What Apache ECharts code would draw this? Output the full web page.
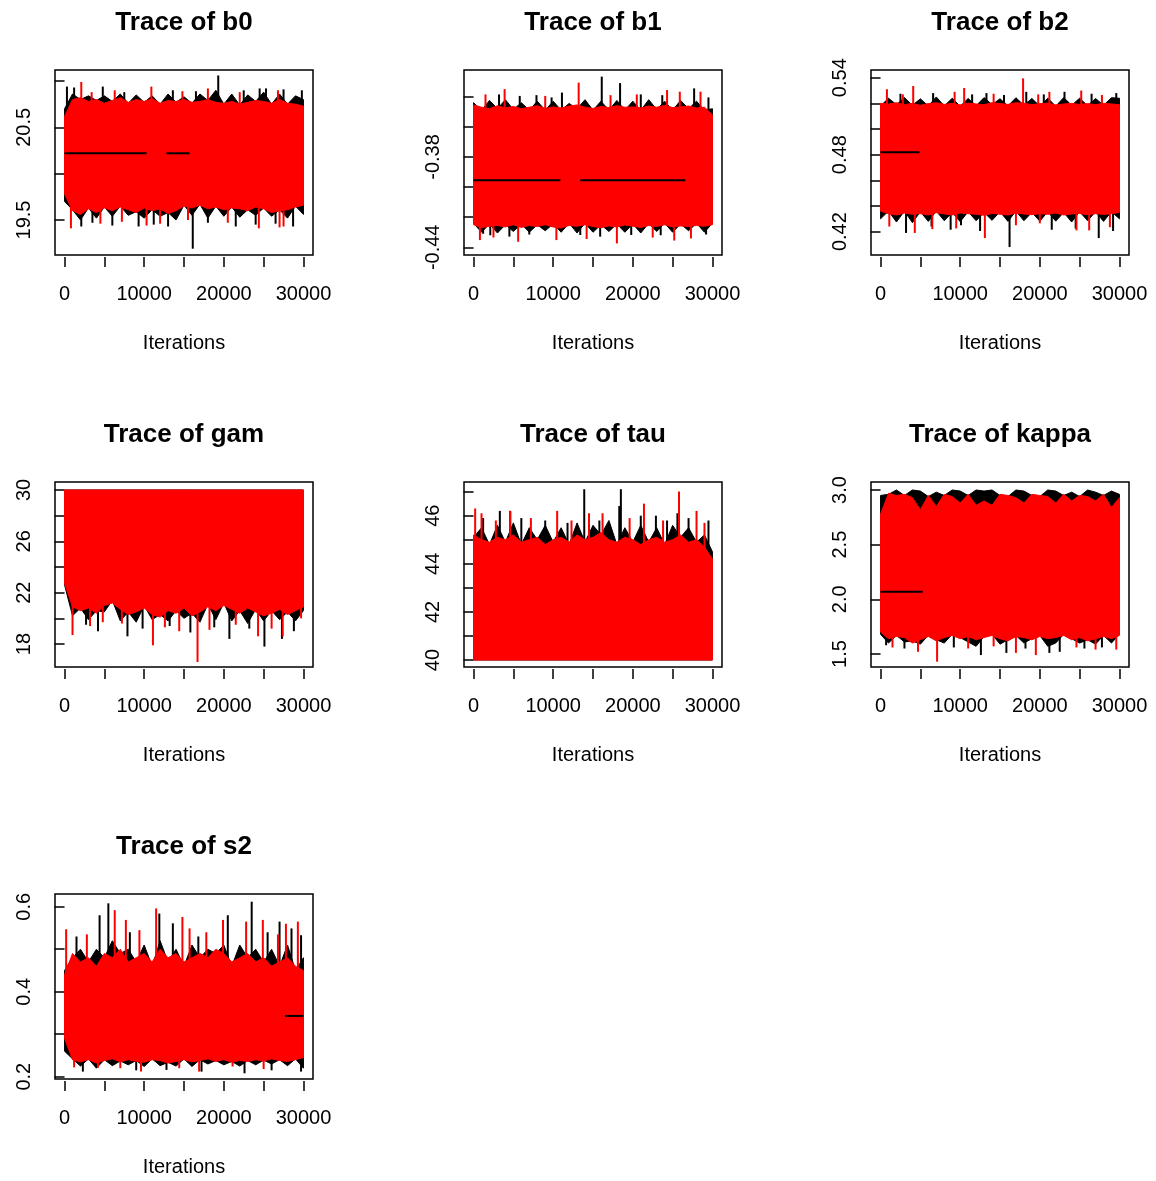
<!DOCTYPE html>
<html><head><meta charset="utf-8">
<script src="https://cdn.jsdelivr.net/npm/echarts@6/dist/echarts.min.js"></script>
<style>html,body{margin:0;padding:0;background:#fff}#c{width:1156px;height:1181px}</style>
</head><body><div id="c"></div>
<script>
// ---------- shared x data ----------
const iterations = [0,1000,2000,3000,4000,5000,6000,7000,8000,9000,10000,11000,12000,13000,14000,15000,16000,17000,18000,19000,20000,21000,22000,23000,24000,25000,26000,27000,28000,29000,30000];
const xTickValues = [0,5000,10000,15000,20000,25000,30000];
const xLabelValues = [0,10000,20000,30000];
const xLabel = 'Iterations';

// ---------- b0 ----------
const b0Title = 'Trace of b0';
const b0YTicks = [19.5,20.0,20.5,21.0];
const b0YLabels = [19.5,20.5];
const b0RedHi = [20.62,20.80,20.82,20.78,20.80,20.76,20.79,20.82,20.77,20.80,20.78,20.81,20.76,20.79,20.78,20.80,20.77,20.78,20.80,20.77,20.76,20.78,20.75,20.77,20.79,20.78,20.76,20.80,20.76,20.75,20.73];
const b0RedLo = [19.78,19.60,19.56,19.62,19.58,19.63,19.60,19.64,19.61,19.58,19.63,19.60,19.62,19.57,19.60,19.65,19.63,19.66,19.62,19.64,19.61,19.63,19.62,19.60,19.64,19.62,19.58,19.60,19.61,19.64,19.66];
const b0BlackHi = [20.70,20.86,20.80,20.84,20.79,20.84,20.78,20.86,20.76,20.85,20.77,20.84,20.75,20.86,20.77,20.83,20.76,20.86,20.79,20.90,20.75,20.86,20.74,20.85,20.78,20.88,20.75,20.86,20.75,20.84,20.80];
const b0BlackLo = [19.70,19.61,19.50,19.63,19.52,19.64,19.54,19.65,19.55,19.59,19.52,19.61,19.54,19.58,19.50,19.66,19.55,19.67,19.52,19.65,19.54,19.64,19.53,19.61,19.55,19.63,19.54,19.61,19.52,19.65,19.56];
const b0RedSpikes = [[2100,20.99],[6300,20.90],[10900,20.94],[18000,20.92],[3400,20.88],[14800,20.89],[22000,20.88],[26800,20.90],[800,19.41],[10300,19.44],[12000,19.46],[24400,19.41],[27000,19.42],[27500,19.43],[4500,19.46],[7200,19.48],[15500,19.50],[20500,19.47]];
const b0BlackSpikes = [[300,20.94],[1200,20.93],[4800,20.94],[13600,20.90],[19300,21.06],[24500,20.92],[25300,20.92],[29800,20.90],[7500,20.88],[16500,20.89],[22500,20.90],[27500,20.91],[2100,19.43],[6000,19.44],[9300,19.43],[11200,19.45],[13000,19.43],[16100,19.19],[18000,19.47],[21500,19.43],[28700,19.43],[3500,19.47],[24000,19.45],[26500,19.46]];
const b0Flat = [[0,10300,20.22],[12800,15700,20.22]];

// ---------- b1 ----------
const b1Title = 'Trace of b1';
const b1YTicks = [-0.44,-0.42,-0.40,-0.38,-0.36,-0.34];
const b1YLabels = [-0.44,-0.38];
const b1RedHi = [-0.3455,-0.3470,-0.3480,-0.3460,-0.3475,-0.3465,-0.3480,-0.3470,-0.3460,-0.3478,-0.3468,-0.3475,-0.3462,-0.3455,-0.3470,-0.3478,-0.3465,-0.3472,-0.3460,-0.3470,-0.3468,-0.3475,-0.3462,-0.3470,-0.3458,-0.3472,-0.3468,-0.3462,-0.3475,-0.3470,-0.3520];
const b1RedLo = [-0.4250,-0.4270,-0.4260,-0.4255,-0.4265,-0.4250,-0.4268,-0.4255,-0.4262,-0.4250,-0.4265,-0.4272,-0.4255,-0.4260,-0.4250,-0.4262,-0.4270,-0.4258,-0.4265,-0.4252,-0.4260,-0.4268,-0.4255,-0.4262,-0.4250,-0.4265,-0.4258,-0.4262,-0.4255,-0.4260,-0.4250];
const b1BlackHi = [-0.3440,-0.3490,-0.3425,-0.3480,-0.3420,-0.3485,-0.3440,-0.3490,-0.3430,-0.3490,-0.3430,-0.3490,-0.3445,-0.3480,-0.3420,-0.3490,-0.3430,-0.3490,-0.3425,-0.3490,-0.3430,-0.3490,-0.3420,-0.3485,-0.3430,-0.3490,-0.3425,-0.3480,-0.3430,-0.3490,-0.3480];
const b1BlackLo = [-0.4240,-0.4300,-0.4245,-0.4305,-0.4250,-0.4295,-0.4245,-0.4300,-0.4250,-0.4290,-0.4245,-0.4300,-0.4240,-0.4305,-0.4240,-0.4300,-0.4250,-0.4295,-0.4245,-0.4300,-0.4245,-0.4305,-0.4240,-0.4295,-0.4240,-0.4300,-0.4245,-0.4290,-0.4240,-0.4300,-0.4240];
const b1RedSpikes = [[3900,-0.3350],[13200,-0.3307],[24300,-0.3356],[25900,-0.3367],[28500,-0.3367],[1500,-0.3385],[9000,-0.3395],[17200,-0.3390],[20500,-0.3385],[800,-0.4352],[5600,-0.4363],[10400,-0.4352],[18000,-0.4374],[27300,-0.4341],[2500,-0.4335],[14200,-0.4345],[22500,-0.4335],[25200,-0.4355]];
const b1BlackSpikes = [[3200,-0.3385],[7900,-0.3390],[11100,-0.3373],[16100,-0.3267],[18400,-0.3310],[27700,-0.3345],[5800,-0.3395],[9800,-0.3405],[21000,-0.3385],[23700,-0.3390],[29500,-0.3405],[1200,-0.4310],[4500,-0.4329],[13400,-0.4318],[15900,-0.4329],[2100,-0.4320],[7000,-0.4315],[19800,-0.4318],[23500,-0.4320],[29200,-0.4315]];
const b1Flat = [[0,10900,-0.3955],[13400,26600,-0.3955]];

// ---------- b2 ----------
const b2Title = 'Trace of b2';
const b2YTicks = [0.42,0.44,0.46,0.48,0.50,0.52,0.54];
const b2YLabels = [0.42,0.48,0.54];
const b2RedHi = [0.5200,0.5195,0.5205,0.5190,0.5200,0.5185,0.5198,0.5205,0.5192,0.5200,0.5188,0.5202,0.5195,0.5190,0.5205,0.5198,0.5192,0.5205,0.5200,0.5190,0.5198,0.5202,0.5188,0.5195,0.5200,0.5192,0.5198,0.5190,0.5200,0.5195,0.5190];
const b2RedLo = [0.4360,0.4340,0.4330,0.4345,0.4335,0.4340,0.4330,0.4348,0.4338,0.4330,0.4345,0.4340,0.4335,0.4328,0.4342,0.4336,0.4330,0.4345,0.4338,0.4332,0.4340,0.4335,0.4345,0.4330,0.4338,0.4342,0.4332,0.4340,0.4335,0.4340,0.4350];
const b2BlackHi = [0.5180,0.5240,0.5190,0.5245,0.5185,0.5235,0.5180,0.5250,0.5180,0.5240,0.5178,0.5238,0.5182,0.5245,0.5190,0.5236,0.5180,0.5244,0.5185,0.5238,0.5180,0.5240,0.5178,0.5245,0.5185,0.5240,0.5182,0.5238,0.5185,0.5244,0.5240];
const b2BlackLo = [0.4300,0.4360,0.4275,0.4360,0.4270,0.4355,0.4280,0.4360,0.4285,0.4350,0.4278,0.4355,0.4285,0.4350,0.4288,0.4355,0.4280,0.4360,0.4285,0.4350,0.4282,0.4355,0.4282,0.4350,0.4275,0.4355,0.4285,0.4355,0.4280,0.4355,0.4300];
const b2RedSpikes = [[800,0.5310],[4100,0.5335],[9300,0.5290],[10500,0.5320],[17900,0.5395],[21200,0.5290],[25200,0.5300],[2800,0.5270],[14200,0.5275],[19800,0.5270],[27800,0.5265],[1100,0.4240],[4300,0.4190],[13100,0.4150],[17000,0.4250],[20000,0.4265],[24600,0.4210],[26200,0.4210],[6500,0.4220],[9500,0.4225],[28800,0.4235]];
const b2BlackSpikes = [[6600,0.5280],[13300,0.5280],[18300,0.5290],[23100,0.5290],[29600,0.5280],[2500,0.5275],[11500,0.5270],[15500,0.5265],[20500,0.5270],[26500,0.5275],[3200,0.4190],[6400,0.4240],[10100,0.4250],[16200,0.4080],[27400,0.4150],[8800,0.4215],[12500,0.4205],[21500,0.4215],[24500,0.4225],[29200,0.4205]];
const b2Flat = [[0,4900,0.4818]];

// ---------- gam ----------
const gamTitle = 'Trace of gam';
const gamYTicks = [18,20,22,24,26,28,30];
const gamYLabels = [18,22,26,30];
const gamRedHi = [30,30,30,30,30,30,30,30,30,30,30,30,30,30,30,30,30,30,30,30,30,30,30,30,30,30,30,30,30,30,30];
const gamRedLo = [22.7,20.9,20.6,20.8,20.4,21.0,21.2,20.7,20.3,20.5,20.8,20.3,20.1,20.6,20.4,20.8,20.2,20.5,20.9,20.6,21.0,20.7,20.4,20.8,20.5,20.2,20.4,20.7,20.3,20.6,20.9];
const gamBlackHi = [30,30,30,30,30,30,30,30,30,30,30,30,30,30,30,30,30,30,30,30,30,30,30,30,30,30,30,30,30,30,30];
const gamBlackLo = [22.6,20.2,20.8,19.9,20.6,20.5,21.4,19.8,20.5,19.7,21.0,19.9,20.3,19.8,20.6,20.0,20.4,19.7,21.1,19.9,21.2,19.8,20.6,19.6,20.7,19.8,20.6,19.9,20.5,19.8,20.6];
const gamRedSpikes = [[1000,18.7],[4800,19.7],[11100,17.9],[14400,19.0],[16700,16.6],[18200,19.1],[24300,18.6],[27400,18.6],[29700,20.0],[3200,19.4],[7200,19.6],[12600,19.3],[21500,19.5],[26000,19.2]];
const gamBlackSpikes = [[200,24.4],[2700,19.5],[7900,18.6],[13200,19.4],[20700,18.4],[25100,17.8],[27300,18.4],[4200,19.0],[9800,19.2],[15800,18.9],[18800,19.3],[23200,19.2],[28800,19.0]];
const gamFlat = [];

// ---------- tau ----------
const tauTitle = 'Trace of tau';
const tauYTicks = [40,41,42,43,44,45,46,47];
const tauYLabels = [40,42,44,46];
const tauRedHi = [45.2,45.0,44.9,45.1,45.0,45.2,44.9,45.0,45.1,44.8,45.0,45.1,44.9,45.2,45.0,45.1,45.3,45.0,44.9,45.1,45.0,44.8,45.0,45.1,44.9,45.0,45.2,44.9,45.0,44.7,44.2];
const tauRedLo = [40,40,40,40,40,40,40,40,40,40,40,40,40,40,40,40,40,40,40,40,40,40,40,40,40,40,40,40,40,40,40];
const tauBlackHi = [45.1,45.5,44.8,45.6,44.9,45.7,44.8,45.5,45.0,45.6,44.9,45.5,44.8,45.7,44.9,45.6,45.2,45.8,44.8,45.5,44.9,45.6,44.9,45.5,44.8,45.6,45.1,45.5,44.9,45.2,44.5];
const tauBlackLo = [40,40,40,40,40,40,40,40,40,40,40,40,40,40,40,40,40,40,40,40,40,40,40,40,40,40,40,40,40,40,40];
const tauRedSpikes = [[200,46.3],[1000,46.1],[4600,46.2],[10500,46.2],[14500,46.1],[16200,46.1],[21400,46.5],[25800,47.0],[28000,46.2],[2800,45.8],[7200,45.9],[12300,45.8],[19600,45.9],[23800,45.8],[29000,45.7]];
const tauBlackSpikes = [[3300,46.2],[4600,46.2],[9000,45.8],[13900,47.1],[18500,47.1],[18300,46.4],[21000,46.0],[22900,46.0],[25600,46.1],[29500,45.8],[1200,45.9],[6000,45.9],[11800,45.7],[15800,45.8],[24300,45.8],[27000,45.9]];
const tauFlat = [];

// ---------- kappa ----------
const kappaTitle = 'Trace of kappa';
const kappaYTicks = [1.5,2.0,2.5,3.0];
const kappaYLabels = [1.5,2.0,2.5,3.0];
const kappaRedHi = [2.78,2.97,2.95,2.96,2.93,2.82,2.95,2.85,2.96,2.94,2.88,2.96,2.86,2.90,2.86,2.96,2.95,2.93,2.88,2.96,2.95,2.94,2.88,2.96,2.90,2.95,2.94,2.90,2.96,2.84,2.93];
const kappaRedLo = [1.70,1.64,1.66,1.65,1.60,1.63,1.66,1.62,1.65,1.67,1.64,1.66,1.63,1.65,1.67,1.64,1.62,1.66,1.65,1.63,1.66,1.64,1.65,1.67,1.63,1.65,1.62,1.64,1.66,1.64,1.67];
const kappaBlackHi = [2.95,2.96,3.00,2.95,3.00,2.99,2.94,2.98,2.95,3.00,2.99,2.95,3.00,2.99,3.00,2.95,2.94,3.00,2.99,2.95,2.94,3.00,2.99,2.95,2.98,2.94,3.00,2.98,2.95,2.99,2.96];
const kappaBlackLo = [1.68,1.60,1.67,1.61,1.62,1.59,1.67,1.63,1.60,1.68,1.65,1.61,1.57,1.66,1.68,1.59,1.63,1.67,1.60,1.64,1.67,1.57,1.60,1.68,1.64,1.60,1.63,1.59,1.67,1.60,1.68];
const kappaRedSpikes = [[4700,1.52],[7100,1.43],[17000,1.51],[19500,1.49],[29600,1.54],[1500,1.56],[11000,1.55],[14200,1.57],[24600,1.56],[27000,1.54]];
const kappaBlackSpikes = [[700,1.58],[12600,1.49],[15800,1.51],[21200,1.51],[22500,1.52],[3000,1.55],[9200,1.56],[18200,1.55],[25600,1.55],[27800,1.56]];
const kappaFlat = [[0,5300,2.07]];

// ---------- s2 ----------
const s2Title = 'Trace of s2';
const s2YTicks = [0.2,0.3,0.4,0.5,0.6];
const s2YLabels = [0.2,0.4,0.6];
const s2RedHi = [0.44,0.49,0.47,0.48,0.46,0.49,0.48,0.50,0.47,0.48,0.49,0.47,0.50,0.48,0.49,0.47,0.48,0.49,0.48,0.50,0.49,0.47,0.48,0.49,0.47,0.48,0.46,0.47,0.48,0.46,0.45];
const s2RedLo = [0.29,0.240,0.235,0.240,0.232,0.238,0.242,0.235,0.240,0.236,0.234,0.240,0.238,0.232,0.236,0.240,0.235,0.238,0.242,0.236,0.240,0.234,0.238,0.236,0.240,0.237,0.242,0.238,0.236,0.240,0.245];
const s2BlackHi = [0.45,0.48,0.50,0.47,0.50,0.48,0.52,0.49,0.50,0.47,0.51,0.46,0.52,0.47,0.50,0.46,0.51,0.48,0.50,0.49,0.51,0.46,0.51,0.48,0.50,0.47,0.50,0.46,0.51,0.45,0.48];
const s2BlackLo = [0.26,0.242,0.225,0.242,0.220,0.240,0.226,0.237,0.228,0.238,0.224,0.242,0.226,0.234,0.225,0.242,0.224,0.240,0.230,0.238,0.228,0.236,0.225,0.238,0.228,0.239,0.230,0.240,0.226,0.242,0.220];
const s2RedSpikes = [[200,0.547],[6300,0.592],[7700,0.569],[11500,0.596],[14800,0.576],[15700,0.549],[19900,0.569],[22800,0.565],[24900,0.569],[29300,0.565],[2800,0.535],[9400,0.545],[17800,0.540],[26800,0.535],[27800,0.560],[4200,0.221],[9600,0.212],[14400,0.220],[16900,0.212],[21100,0.224],[1200,0.222],[7000,0.220],[25000,0.218]];
const s2BlackSpikes = [[4400,0.580],[5500,0.608],[11900,0.584],[13600,0.561],[20500,0.580],[23500,0.612],[27000,0.565],[28500,0.549],[29700,0.533],[1500,0.530],[8200,0.540],[16800,0.530],[25500,0.540],[2300,0.212],[17200,0.212],[22600,0.208],[29700,0.212],[9000,0.215],[12800,0.216],[26000,0.215]];
const s2Flat = [[27700,30000,0.343]];

// ---------- layout (positions / styles) ----------
const FONT = '"Liberation Sans", Arial, sans-serif';
const RED = '#ff0000', BLACK = '#000000';
const colLeft = [55, 464, 871];
const rowTop = [70, 482, 894];
const W = 258, H = 185;

const panels = [
  {t:b0Title, col:0,row:0, min:19.122, max:21.119, dec:1, ticks:b0YTicks, labels:b0YLabels, rh:b0RedHi, rl:b0RedLo, bh:b0BlackHi, bl:b0BlackLo, rs:b0RedSpikes, bs:b0BlackSpikes, flat:b0Flat},
  {t:b1Title, col:1,row:0, min:-0.4451, max:-0.3223, dec:2, ticks:b1YTicks, labels:b1YLabels, rh:b1RedHi, rl:b1RedLo, bh:b1BlackHi, bl:b1BlackLo, rs:b1RedSpikes, bs:b1BlackSpikes, flat:b1Flat},
  {t:b2Title, col:2,row:0, min:0.4018, max:0.5460, dec:2, ticks:b2YTicks, labels:b2YLabels, rh:b2RedHi, rl:b2RedLo, bh:b2BlackHi, bl:b2BlackLo, rs:b2RedSpikes, bs:b2BlackSpikes, flat:b2Flat},
  {t:gamTitle, col:0,row:1, min:16.21, max:30.62, dec:0, ticks:gamYTicks, labels:gamYLabels, rh:gamRedHi, rl:gamRedLo, bh:gamBlackHi, bl:gamBlackLo, rs:gamRedSpikes, bs:gamBlackSpikes, flat:gamFlat},
  {t:tauTitle, col:1,row:1, min:39.71, max:47.40, dec:0, ticks:tauYTicks, labels:tauYLabels, rh:tauRedHi, rl:tauRedLo, bh:tauBlackHi, bl:tauBlackLo, rs:tauRedSpikes, bs:tauBlackSpikes, flat:tauFlat},
  {t:kappaTitle, col:2,row:1, min:1.381, max:3.073, dec:1, ticks:kappaYTicks, labels:kappaYLabels, rh:kappaRedHi, rl:kappaRedLo, bh:kappaBlackHi, bl:kappaBlackLo, rs:kappaRedSpikes, bs:kappaBlackSpikes, flat:kappaFlat},
  {t:s2Title, col:0,row:2, min:0.1946, max:0.630, dec:1, ticks:s2YTicks, labels:s2YLabels, rh:s2RedHi, rl:s2RedLo, bh:s2BlackHi, bl:s2BlackLo, rs:s2RedSpikes, bs:s2BlackSpikes, flat:s2Flat}
];

const grid = [], xAxis = [], yAxis = [], series = [], graphic = [];

// band between lo and hi, drawn as one polygon through the axis scales
function bandSeries(g, lo, hi, color) {
  return {type:'custom', xAxisIndex:g, yAxisIndex:g, clip:true, silent:true, animation:false,
    data: iterations.map((x,i)=>[x, lo[i], hi[i]]), encode:{x:0, y:[1,2]},
    renderItem:(params, api) => {
      if (params.dataIndexInside !== 0) return null;
      const top = iterations.map((x,i)=>api.coord([x, hi[i]]));
      const bot = iterations.map((x,i)=>api.coord([x, lo[i]])).reverse();
      return {type:'polygon', shape:{points: top.concat(bot)},
        style:{fill:color, stroke:color, lineWidth:1}};
    }};
}
function spikeSeries(g, spikes, rh, rl, color) {
  const data = spikes.map(s => {
    const i = Math.round(s[0]/1000);
    return [s[0], s[1], (rh[i]+rl[i])/2];
  });
  return {type:'custom', xAxisIndex:g, yAxisIndex:g, data, encode:{x:0, y:[1,2]}, clip:true,
    silent:true, animation:false,
    renderItem:(params, api) => {
      const p1 = api.coord([api.value(0), api.value(1)]);
      const p2 = api.coord([api.value(0), api.value(2)]);
      return {type:'line', shape:{x1:p1[0], y1:p1[1], x2:p2[0], y2:p2[1]}, style:{stroke:color, lineWidth:2}};
    }};
}
function flatSeries(g, flat) {
  return {type:'custom', xAxisIndex:g, yAxisIndex:g, data:flat, encode:{x:[0,1], y:2}, clip:true,
    silent:true, animation:false,
    renderItem:(params, api) => {
      const p1 = api.coord([api.value(0), api.value(2)]);
      const p2 = api.coord([api.value(1), api.value(2)]);
      return {type:'line', shape:{x1:p1[0], y1:p1[1], x2:p2[0], y2:p2[1]}, style:{stroke:BLACK, lineWidth:2}};
    }};
}

panels.forEach((p, g) => {
  const left = colLeft[p.col], top = rowTop[p.row];
  grid.push({left:left, top:top, width:W, height:H, show:true, borderColor:'#000', borderWidth:1.5, backgroundColor:'transparent', containLabel:false});
  xAxis.push({type:'value', gridIndex:g, min:-1200, max:31200, offset:2,
    axisLine:{show:false}, splitLine:{show:false},
    axisTick:{show:true, length:10, lineStyle:{color:'#000', width:1.5}, customValues:xTickValues},
    axisLabel:{show:true, customValues:xLabelValues, fontSize:20, fontFamily:FONT, color:'#000', margin:27, hideOverlap:false,
      formatter:(v)=>String(Math.round(v))}
  });
  yAxis.push({type:'value', gridIndex:g, min:p.min, max:p.max, offset:2,
    axisLine:{show:false}, splitLine:{show:false},
    axisTick:{show:true, length:10, lineStyle:{color:'#000', width:1.5}, customValues:p.ticks},
    axisLabel:{show:true, customValues:p.labels, rotate:90, fontSize:20, fontFamily:FONT, color:'#000', margin:19, hideOverlap:false,
      formatter:(v)=>Number(v).toFixed(p.dec)}
  });
  series.push(bandSeries(g, p.bl, p.bh, BLACK));
  series.push(spikeSeries(g, p.bs, p.rh, p.rl, BLACK));
  series.push(bandSeries(g, p.rl, p.rh, RED));
  series.push(spikeSeries(g, p.rs, p.rh, p.rl, RED));
  if (p.flat.length) series.push(flatSeries(g, p.flat));
  graphic.push({type:'text', x:left + W/2, y:top - 47, silent:true,
    style:{text:p.t, fontSize:26, fontWeight:'bold', fontFamily:FONT, fill:'#000', align:'center', verticalAlign:'middle'}});
  graphic.push({type:'text', x:left + W/2, y:top + 273, silent:true,
    style:{text:xLabel, fontSize:20, fontFamily:FONT, fill:'#000', align:'center', verticalAlign:'middle'}});
});

const chart = echarts.init(document.getElementById('c'), null, {renderer:'canvas'});
chart.setOption({backgroundColor:'#ffffff', animation:false, grid, xAxis, yAxis, series, graphic});
</script></body></html>
